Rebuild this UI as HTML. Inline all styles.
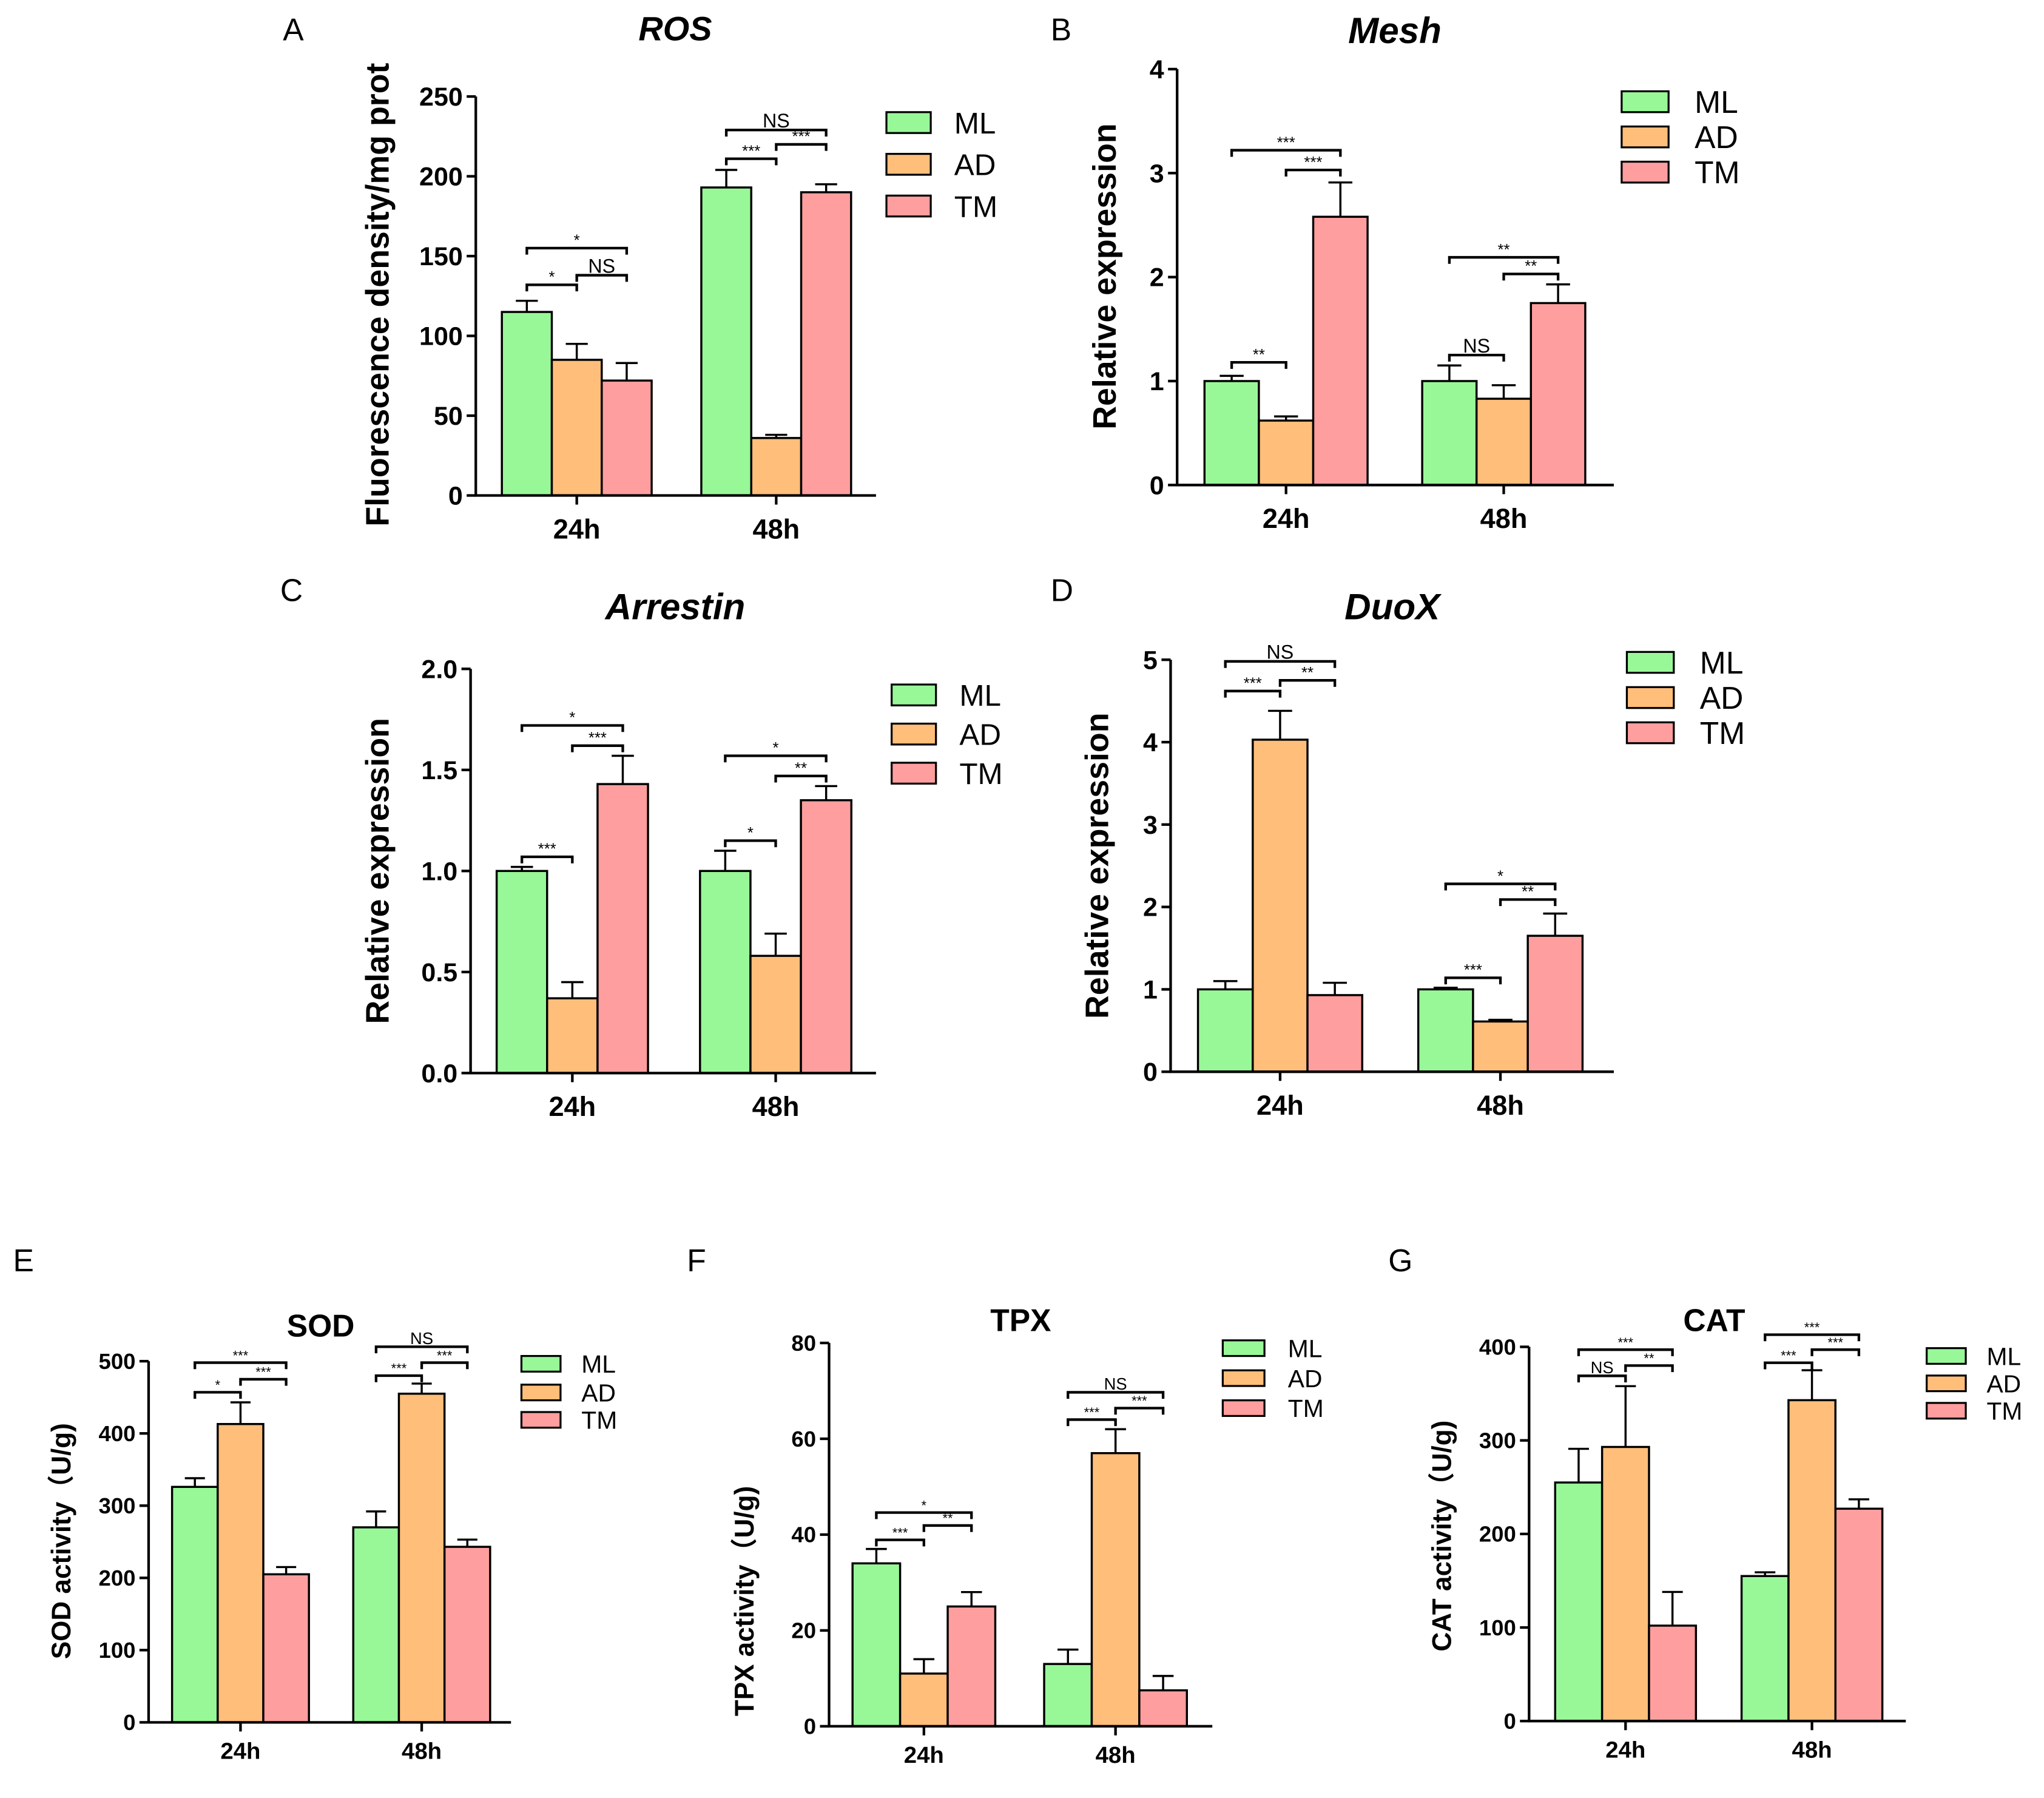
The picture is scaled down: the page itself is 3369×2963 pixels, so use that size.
<!DOCTYPE html>
<html><head><meta charset="utf-8"><style>
html,body{margin:0;padding:0;background:#fff;}
svg{display:block;font-family:"Liberation Sans","Noto Sans CJK SC",sans-serif;}
</style></head><body>
<svg id="fig" width="3369" height="2963" viewBox="0 0 1568 1379" xmlns="http://www.w3.org/2000/svg"></svg>
<script>
// ---- data ----
const groups = ['24h','48h'];
const seriesNames = ['ML','AD','TM'];
// ROS
const rosML=[115,193], rosAD=[85,36], rosTM=[72,190];
const rosErrML=[7,11], rosErrAD=[10,2], rosErrTM=[11,5];
const rosTicks=[0,50,100,150,200,250];
const rosSig=[['*','NS','*'],['***','***','NS']];
const rosSigY=[[132,138,155],[211,220,229]];
// Mesh
const meshML=[1.0,1.0], meshAD=[0.62,0.83], meshTM=[2.58,1.75];
const meshErrML=[0.05,0.15], meshErrAD=[0.04,0.13], meshErrTM=[0.33,0.18];
const meshTicks=[0,1,2,3,4];
const meshSig=[['**','***','***'],['NS','**','**']];
const meshSigY=[[1.18,3.03,3.22],[1.25,2.03,2.19]];
// Arrestin
const arrML=[1.0,1.0], arrAD=[0.37,0.58], arrTM=[1.43,1.35];
const arrErrML=[0.02,0.1], arrErrAD=[0.08,0.11], arrErrTM=[0.14,0.07];
const arrTicks=['0.0','0.5','1.0','1.5','2.0'];
const arrSig=[['***','***','*'],['*','**','*']];
const arrSigY=[[1.07,1.62,1.72],[1.15,1.47,1.57]];
// DuoX
const duoML=[1.0,1.0], duoAD=[4.03,0.61], duoTM=[0.93,1.65];
const duoErrML=[0.1,0.02], duoErrAD=[0.35,0.02], duoErrTM=[0.15,0.27];
const duoTicks=[0,1,2,3,4,5];
const duoSig=[['***','**','NS'],['***','**','*']];
const duoSigY=[[4.62,4.75,4.98],[1.14,2.09,2.28]];
// SOD
const sodML=[326,270], sodAD=[413,455], sodTM=[205,243];
const sodErrML=[12,22], sodErrAD=[30,14], sodErrTM=[10,10];
const sodTicks=[0,100,200,300,400,500];
const sodSig=[['*','***','***'],['***','***','NS']];
const sodSigY=[[457,475,498],[480,498,520]];
// TPX
const tpxML=[34,13], tpxAD=[11,57], tpxTM=[25,7.5];
const tpxErrML=[3,3], tpxErrAD=[3,5], tpxErrTM=[3,3];
const tpxTicks=[0,20,40,60,80];
const tpxSig=[['***','**','*'],['***','***','NS']];
const tpxSigY=[[38.9,41.9,44.6],[64,66.4,69.7]];
// CAT
const catML=[255,155], catAD=[293,343], catTM=[102,227];
const catErrML=[36,4], catErrAD=[65,32], catErrTM=[36,10];
const catTicks=[0,100,200,300,400];
const catSig=[['NS','**','***'],['***','***','***']];
const catSigY=[[369,380,397],[383,397,413]];

const colors=['#98F898','#FFBE7A','#FF9E9E'];
const NS='http://www.w3.org/2000/svg';
const svg=document.getElementById('fig');
function mk(tag,attrs,parent,text){const e=document.createElementNS(NS,tag);for(const k in attrs)e.setAttribute(k,attrs[k]);if(text!==undefined)e.textContent=text;(parent||svg).appendChild(e);return e;}

function panel(p){
  const g=mk('g',{});
  
  
  const ymax=parseFloat(p.ticks[p.ticks.length-1]);
  const y=v=>p.y0-(v/ymax)*(p.y0-p.y1);
  const xb=(gi,si)=>p.gs0+gi*p.step+si*p.bw;
  const vals=[p.ml,p.ad,p.tm], errs=[p.eml,p.ead,p.etm];
  for(let gi=0;gi<groups.length;gi++){
    for(let si=0;si<3;si++){
      const v=vals[si][gi], e=errs[si][gi];
      const x=xb(gi,si), cx=x+p.bw/2, cw=p.bw*0.22;
      const r=mk('rect',{x:x,y:y(v),width:p.bw,height:p.y0-y(v),fill:colors[si],stroke:'#000','stroke-width':1.6},g);
      
      
      const eb=mk('path',{d:`M${cx},${y(v)}V${y(v+e)}M${cx-cw},${y(v+e)}H${cx+cw}`,stroke:'#000','stroke-width':1.6,fill:'none'},g);
      
      
    }
    const pairs=[[0,1],[1,2],[0,2]];
    for(let k=0;k<3;k++){
      const a=xb(gi,pairs[k][0])+p.bw/2, b=xb(gi,pairs[k][1])+p.bw/2, yy=y(p.sigY[gi][k]);
      const br=mk('path',{d:`M${a},${yy+5}V${yy}H${b}V${yy+5}`,stroke:'#000','stroke-width':2,fill:'none'},g);
      
      
      const lab=p.sig[gi][k];
      const t=mk('text',{x:(a+b)/2,y:yy-2,'text-anchor':'middle','font-size':lab==='NS'?p.fs*0.75:p.fs*0.6},g,lab);
      
      
    }
    const gc=p.gs0+gi*p.step+1.5*p.bw;
    mk('line',{x1:gc,x2:gc,y1:p.y0,y2:p.y0+7,stroke:'#000','stroke-width':2},g);
    const xl=mk('text',{x:gc,y:p.y0+p.fs*1.65,'text-anchor':'middle','font-size':p.fs*1.05,'font-weight':'bold'},g,groups[gi]);
    
    
  }
  const ax=mk('path',{d:`M${p.ax},${p.y1}V${p.y0}H${p.xend}`,stroke:'#000','stroke-width':2,fill:'none'},g);
  
  
  p.ticks.forEach(t=>{
    const yy=y(parseFloat(t));
    mk('line',{x1:p.ax-7,x2:p.ax,y1:yy,y2:yy,stroke:'#000','stroke-width':2},g);
    const tl=mk('text',{x:p.ax-10,y:yy+p.fs*0.35,'text-anchor':'end','font-size':p.fs,'font-weight':'bold'},g,String(t));
    
    
  });
  const yt=mk('text',{x:0,y:0,transform:`translate(${p.ytx},${p.yty}) rotate(-90)`,'text-anchor':'middle','font-size':p.ytfs,'font-weight':'bold'},g,p.ytitle);
  
  
  const ti=mk('text',{x:p.tx,y:p.ty,'text-anchor':'middle','font-size':p.tfs,'font-weight':'bold','font-style':p.italic?'italic':'normal'},g,p.title);
  
  
  const pl=mk('text',{x:p.lx,y:p.ly,'font-size':24},g,p.id);
  
  
  for(let si=0;si<3;si++){
    const yy=p.legY[si];
    const lr=mk('rect',{x:p.legX,y:yy,width:p.legW,height:p.legH,fill:colors[si],stroke:'#000','stroke-width':1.5},g);
    
    
    const lt=mk('text',{x:p.legTX,y:yy+p.legH/2+p.legFs*0.36,'font-size':p.legFs},g,seriesNames[si]);
    
    
  }
}

panel({id:'A',ml:rosML,ad:rosAD,tm:rosTM,eml:rosErrML,ead:rosErrAD,etm:rosErrTM,ticks:rosTicks,sig:rosSig,sigY:rosSigY,
  ax:365,y0:380,y1:74,xend:672,gs0:385,step:153,bw:38.3,fs:20,ytfs:25,title:'ROS',italic:true,tfs:26,tx:518,ty:31,lx:217,ly:31,
  ytitle:'Fluorescence density/mg prot',ytx:298,yty:226,legX:680,legW:34,legH:16,legY:[86,118,150],legTX:732,legFs:23});
panel({id:'B',ml:meshML,ad:meshAD,tm:meshTM,eml:meshErrML,ead:meshErrAD,etm:meshErrTM,ticks:meshTicks,sig:meshSig,sigY:meshSigY,
  ax:903,y0:372,y1:53,xend:1238,gs0:924,step:167,bw:41.7,fs:20,ytfs:25,title:'Mesh',italic:true,tfs:28,tx:1070,ty:33,lx:806,ly:31,
  ytitle:'Relative expression',ytx:856,yty:212,legX:1244,legW:36,legH:16,legY:[70,97,124],legTX:1300,legFs:24});
panel({id:'C',ml:arrML,ad:arrAD,tm:arrTM,eml:arrErrML,ead:arrErrAD,etm:arrErrTM,ticks:arrTicks,sig:arrSig,sigY:arrSigY,
  ax:361,y0:823,y1:513,xend:672,gs0:381,step:156,bw:38.7,fs:20,ytfs:25,title:'Arrestin',italic:true,tfs:28,tx:518,ty:475,lx:215,ly:461,
  ytitle:'Relative expression',ytx:298,yty:668,legX:684,legW:34,legH:16,legY:[525,555,585],legTX:736,legFs:23});
panel({id:'D',ml:duoML,ad:duoAD,tm:duoTM,eml:duoErrML,ead:duoErrAD,etm:duoErrTM,ticks:duoTicks,sig:duoSig,sigY:duoSigY,
  ax:898,y0:822,y1:506,xend:1238,gs0:919,step:169,bw:42,fs:20,ytfs:25,title:'DuoX',italic:true,tfs:28,tx:1068,ty:475,lx:806,ly:461,
  ytitle:'Relative expression',ytx:850,yty:664,legX:1248,legW:36,legH:16,legY:[500,527,554],legTX:1304,legFs:24});
panel({id:'E',ml:sodML,ad:sodAD,tm:sodTM,eml:sodErrML,ead:sodErrAD,etm:sodErrTM,ticks:sodTicks,sig:sodSig,sigY:sodSigY,
  ax:114,y0:1321,y1:1044,xend:392,gs0:132,step:139,bw:35,fs:17,ytfs:20.5,title:'SOD',italic:false,tfs:24,tx:246,ty:1025,lx:10,ly:975,
  ytitle:'SOD  activity（U/g)',ytx:54,yty:1182,legX:400,legW:30,legH:12,legY:[1040,1062,1083],legTX:446,legFs:19});
panel({id:'F',ml:tpxML,ad:tpxAD,tm:tpxTM,eml:tpxErrML,ead:tpxErrAD,etm:tpxErrTM,ticks:tpxTicks,sig:tpxSig,sigY:tpxSigY,
  ax:636,y0:1324,y1:1030,xend:930,gs0:654,step:147,bw:36.5,fs:17,ytfs:20.5,title:'TPX',italic:false,tfs:24,tx:783,ty:1021,lx:527,ly:975,
  ytitle:'TPX  activity（U/g)',ytx:578,yty:1228,legX:938,legW:32,legH:12,legY:[1028,1051,1074],legTX:988,legFs:19});
panel({id:'G',ml:catML,ad:catAD,tm:catTM,eml:catErrML,ead:catErrAD,etm:catErrTM,ticks:catTicks,sig:catSig,sigY:catSigY,
  ax:1173,y0:1320,y1:1033,xend:1462,gs0:1193,step:143,bw:36,fs:17,ytfs:20.5,title:'CAT',italic:false,tfs:24,tx:1315,ty:1021,lx:1065,ly:975,
  ytitle:'CAT  activity（U/g)',ytx:1113,yty:1178,legX:1478,legW:30,legH:12,legY:[1034,1055,1076],legTX:1524,legFs:19});
</script>
</body></html>
